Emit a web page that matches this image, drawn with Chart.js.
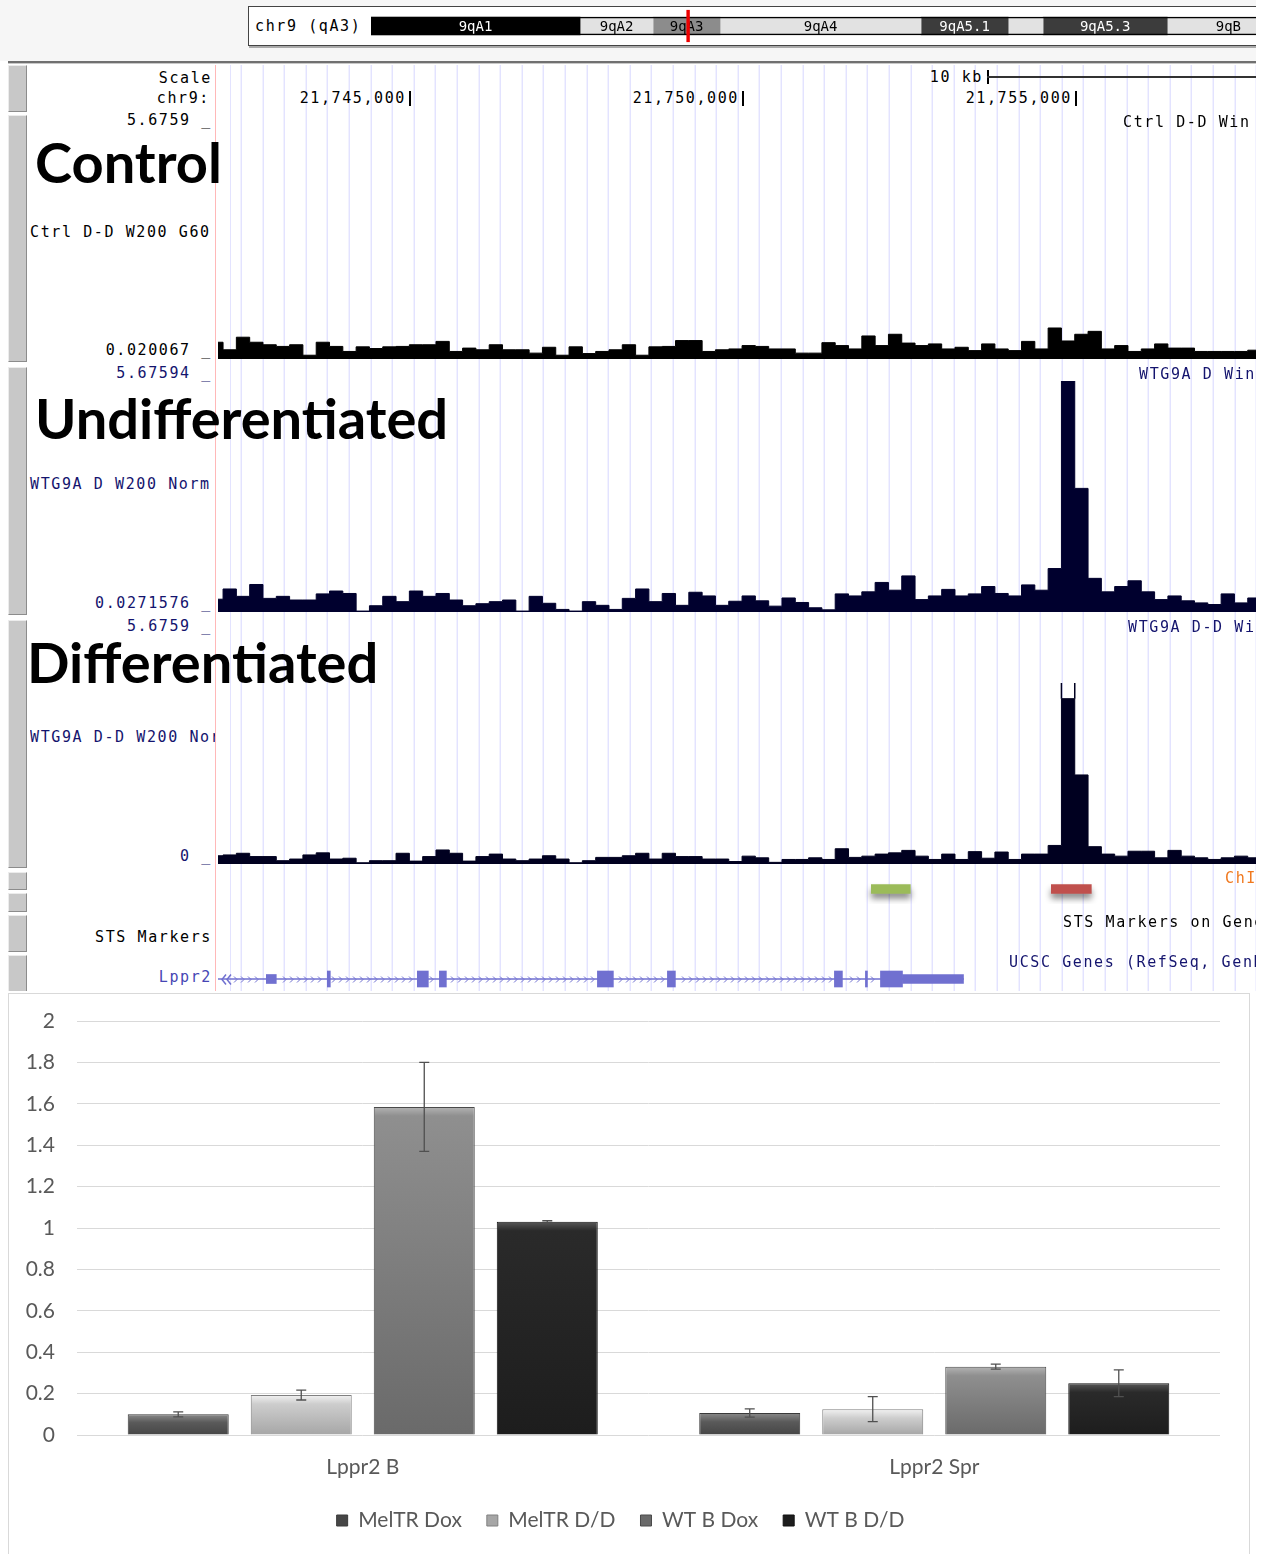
<!DOCTYPE html>
<html>
<head>
<meta charset="utf-8">
<title>Lppr2 ChIP</title>
<script src="https://cdn.jsdelivr.net/npm/chart.js@4.4.1/dist/chart.umd.min.js"></script>
<style>
    body { margin: 0; width: 1274px; height: 1554px; position: relative; overflow: hidden; background: #fff; }
    #browser { position: absolute; left: 0; top: 0; width: 1256px; height: 991px; overflow: hidden; }
    #topband { position: absolute; left: 0; top: 0; width: 1256px; height: 61px; background: #f6f6f6; }
    #ideo-box { position: absolute; left: 248px; top: 6px; width: 1030px; height: 38px; background: #fff; border: 1px solid #444; box-shadow: 1px 2px 0 #aaa; }
    .rule1 { position: absolute; left: 8px; top: 61px; width: 1248px; height: 2px; background: #707070; }
    .rule2 { position: absolute; left: 8px; top: 63px; width: 1248px; height: 1px; background: #c8c8c8; }
    .guides { position: absolute; left: 230px; top: 65px; width: 1026px; height: 926px;
        background-image: repeating-linear-gradient(90deg, #d6d6ff 0, #d6d6ff 1px, transparent 1px, transparent 21.6px);
        background-position: 10.7px 0; }
    .redline { position: absolute; left: 215px; top: 65px; width: 1px; height: 926px; background: #ffb8b8; }
    .btn { position: absolute; left: 8px; width: 17px; background: #c8c8c8; border: 1px solid; border-color: #ececec #8c8c8c #8c8c8c #ececec; }
    .t { position: absolute; font-family: "DejaVu Sans Mono", monospace; font-size: 15px; line-height: 16px; letter-spacing: 1.6px; white-space: nowrap; color: #000; }
    .navy { color: #14146e; }
    .tick { position: absolute; width: 1.5px; height: 15px; background: #000; }
    .big { position: absolute; font-family: Lato, sans-serif; font-weight: 700; font-size: 56px; line-height: 67.2px; white-space: nowrap; color: #000; }
    canvas.layer { position: absolute; }
    #bar-box { position: absolute; left: 8px; top: 993px; width: 1240px; height: 560px; border: 1px solid #d9d9d9; }
</style>
</head>
<body>
<div id="browser">
    <div id="topband"></div>
    <div id="ideo-box"></div>
    <div class="t" style="left:255px;top:18px">chr9 (qA3)</div>
    <canvas id="chart-ideo" class="layer" width="885" height="36" style="left:371px;top:8px"></canvas>

    <div class="rule1"></div>
    <div class="rule2"></div>
    <div class="guides"></div>
    <div class="redline"></div>

    <div class="btn" style="top:65px;height:45px"></div>
    <div class="btn" style="top:115px;height:245px"></div>
    <div class="btn" style="top:367px;height:246px"></div>
    <div class="btn" style="top:620px;height:246px"></div>
    <div class="btn" style="top:872px;height:16px"></div>
    <div class="btn" style="top:893px;height:17px"></div>
    <div class="btn" style="top:915px;height:35px"></div>
    <div class="btn" style="top:955px;height:36px"></div>

    <!-- ruler -->
    <div class="t" style="right:1044px;top:70px">Scale</div>
    <div class="t" style="right:1046px;top:90px">chr9:</div>
    <div class="t" style="right:850px;top:90px">21,745,000</div>
    <div class="tick" style="left:409px;top:91px"></div>
    <div class="t" style="right:517px;top:90px">21,750,000</div>
    <div class="tick" style="left:742px;top:91px"></div>
    <div class="t" style="right:184px;top:90px">21,755,000</div>
    <div class="tick" style="left:1075px;top:91px"></div>
    <div class="t" style="right:273px;top:69px">10 kb</div>
    <div class="tick" style="left:987px;top:70px;height:14px"></div>
    <div style="position:absolute;left:987px;top:76px;width:300px;height:1.5px;background:#333"></div>

    <!-- wiggle tracks -->
    <canvas id="chart-ctrl" class="layer" width="1038" height="237" style="left:218px;top:122px"></canvas>
    <canvas id="chart-undiff" class="layer" width="1038" height="231" style="left:218px;top:381px"></canvas>
    <canvas id="chart-diff" class="layer" width="1038" height="234" style="left:218px;top:630px"></canvas>
    <canvas id="chart-amp" class="layer" width="1038" height="30" style="left:218px;top:874px"></canvas>
    <canvas id="chart-gene" class="layer" width="1038" height="22" style="left:218px;top:968px"></canvas>

    <div class="t" style="right:1044px;top:112px">5.6759 _</div>
    <div class="t" style="left:1123px;top:114px">Ctrl D-D Win</div>
    <div class="t" style="left:30px;top:224px">Ctrl D-D W200 G60</div>
    <div class="t" style="right:1044px;top:342px">0.020067 _</div>

    <div class="t navy" style="right:1044px;top:365px">5.67594 _</div>
    <div class="t navy" style="left:1139px;top:366px">WTG9A D Win</div>
    <div class="t navy" style="left:30px;top:476px">WTG9A D W200 Norm</div>
    <div class="t navy" style="right:1044px;top:595px">0.0271576 _</div>

    <div class="t navy" style="right:1044px;top:618px">5.6759 _</div>
    <div class="t navy" style="left:1128px;top:619px">WTG9A D-D Wi</div>
    <div class="t navy" style="left:30px;top:729px;width:185px;overflow:hidden">WTG9A D-D W200 Norm</div>
    <div class="t navy" style="right:1044px;top:848px">0 _</div>

    <div class="t" style="left:1225px;top:870px;color:#f0781e">ChIP</div>
    <div class="t" style="left:1063px;top:914px">STS Markers on Genetic</div>
    <div class="t" style="right:1044px;top:929px">STS Markers</div>
    <div class="t navy" style="left:1009px;top:954px">UCSC Genes (RefSeq, GenBank)</div>
    <div class="t" style="right:1044px;top:969px;color:#4646b4">Lppr2</div>

    <div class="big" style="left:35px;top:128px">Control</div>
    <div class="big" style="left:35px;top:384px">Undifferentiated</div>
    <div class="big" style="left:27px;top:628px">Differentiated</div>
</div>

<div id="bar-box">
    <canvas id="chart-bar" width="1240" height="560"></canvas>
</div>

<script>
    // ---- genome browser window (bp) ----
    var viewStart = 21742124;
    var viewEnd = 21757724;
    var binStart = 21742000; // first 200 bp window
    var binSize = 200;

    // W200 window values, one per 200 bp bin
    var ctrlValues = [0.42, 0.24, 0.54, 0.42, 0.36, 0.32, 0.36, 0.11, 0.42, 0.32,
        0.20, 0.31, 0.27, 0.31, 0.32, 0.36, 0.36, 0.44, 0.20, 0.28,
        0.24, 0.36, 0.24, 0.24, 0.16, 0.30, 0.11, 0.31, 0.15, 0.20,
        0.24, 0.36, 0.11, 0.31, 0.32, 0.46, 0.46, 0.20, 0.24, 0.26,
        0.34, 0.32, 0.26, 0.26, 0.16, 0.16, 0.41, 0.34, 0.26, 0.57,
        0.34, 0.61, 0.40, 0.34, 0.38, 0.26, 0.30, 0.22, 0.38, 0.26,
        0.22, 0.44, 0.26, 0.76, 0.45, 0.61, 0.68, 0.26, 0.34, 0.20,
        0.26, 0.38, 0.28, 0.28, 0.20, 0.20, 0.20, 0.20, 0.23];
    var undiffValues = [0.34, 0.59, 0.41, 0.70, 0.36, 0.41, 0.32, 0.32, 0.47, 0.54,
        0.48, 0.05, 0.18, 0.41, 0.28, 0.54, 0.41, 0.48, 0.32, 0.18,
        0.23, 0.28, 0.32, 0.05, 0.41, 0.24, 0.09, 0.05, 0.28, 0.19,
        0.09, 0.36, 0.59, 0.28, 0.48, 0.19, 0.51, 0.42, 0.19, 0.29,
        0.42, 0.30, 0.17, 0.37, 0.26, 0.13, 0.08, 0.47, 0.42, 0.52,
        0.75, 0.56, 0.91, 0.33, 0.42, 0.58, 0.42, 0.47, 0.65, 0.48,
        0.42, 0.69, 0.56, 1.09, 5.676, 3.05, 0.85, 0.52, 0.65, 0.79,
        0.52, 0.33, 0.42, 0.30, 0.25, 0.21, 0.47, 0.25, 0.37];
    var diffValues = [0.20, 0.22, 0.26, 0.18, 0.18, 0.08, 0.12, 0.22, 0.27, 0.12,
        0.14, 0.03, 0.08, 0.08, 0.26, 0.07, 0.18, 0.34, 0.26, 0.07,
        0.18, 0.24, 0.12, 0.08, 0.12, 0.20, 0.12, 0.03, 0.08, 0.16,
        0.16, 0.20, 0.26, 0.12, 0.26, 0.18, 0.18, 0.12, 0.12, 0.06,
        0.19, 0.15, 0.04, 0.11, 0.11, 0.15, 0.11, 0.37, 0.16, 0.19,
        0.24, 0.27, 0.33, 0.19, 0.11, 0.24, 0.11, 0.30, 0.14, 0.29,
        0.11, 0.24, 0.24, 0.45, 4.01, 2.16, 0.42, 0.24, 0.19, 0.31,
        0.31, 0.15, 0.33, 0.19, 0.15, 0.11, 0.15, 0.19, 0.15];
    var ctrlRange = [0.020067, 5.6759];
    var undiffRange = [0.0271576, 5.67594];
    var diffRange = [0, 5.6759];
    var diffClipTop = 4.39; // clipping marks above the differentiated peak

    // chromosome ideogram (Mb)
    var bandNames = ['9qA1', '9qA2', '9qA3', '9qA4', '9qA5.1', '9qA5.2', '9qA5.3', '9qB'];
    var bandStarts = [0, 14.34, 19.35, 23.94, 37.73, 43.70, 46.10, 54.61];
    var bandEnds = [14.34, 19.35, 23.94, 37.73, 43.70, 46.10, 54.61, 63.0];
    var bandStains = ['gpos100', 'gneg', 'gpos50', 'gneg', 'gpos75', 'gneg', 'gpos75', 'gneg'];
    var viewMb = [21.742, 21.758];
    var ideoMax = 60.7;

    // ChIP primer amplicons (bp)
    var amplicons = [[21751943, 21752529], [21754648, 21755249]];

    // Lppr2 gene model (bp)
    var geneStart = 21741800;
    var geneEnd = 21753328;
    var utrExons = [[21742850, 21743000], [21752411, 21753328]];
    var cdsExons = [[21743767, 21743812], [21745120, 21745285], [21745451, 21745556],
        [21747826, 21748066], [21748878, 21748998], [21751388, 21751508],
        [21751854, 21751884], [21752080, 21752411]];

    // ---- qPCR bar chart ----
    var groups = ['Lppr2 B', 'Lppr2 Spr'];
    var seriesNames = ['MelTR Dox', 'MelTR D/D', 'WT B Dox', 'WT B D/D'];
    var meltrDox = [0.10, 0.106];
    var meltrDD = [0.193, 0.125];
    var wtDox = [1.585, 0.33];
    var wtDD = [1.03, 0.25];
    var meltrDoxErr = [0.012, 0.02];
    var meltrDDErr = [0.024, 0.06];
    var wtDoxErr = [0.215, 0.012];
    var wtDDErr = [0.005, 0.065];

    Chart.defaults.animation = false;
    Chart.defaults.plugins.tooltip.enabled = false;

    var stainColors = { gpos100: '#000000', gpos75: '#3c3c3c', gpos50: '#8c8c8c', gneg: '#e2e2e2' };
    var stainText = { gpos100: '#ffffff', gpos75: '#ffffff', gpos50: '#000000', gneg: '#000000' };
    var geneColor = '#7070d0';

    function trackPoints(values) {
        var pts = [];
        for (var i = 0; i < values.length; i++) {
            pts.push({ x: binStart + i * binSize, y: values[i] });
        }
        // close the last window
        pts.push({ x: binStart + values.length * binSize, y: values[values.length - 1] });
        return pts;
    }

    function hiddenScales(yMin, yMax) {
        return {
            x: { type: 'linear', display: false, min: viewStart, max: viewEnd },
            y: { display: false, min: yMin, max: yMax }
        };
    }

    function makeTrack(id, values, range, color, extra) {
        var datasets = [{
            data: trackPoints(values),
            stepped: true,
            fill: 'start',
            backgroundColor: color,
            borderColor: color,
            borderWidth: 1,
            pointRadius: 0
        }];
        if (extra) datasets.push(extra);
        return new Chart(document.getElementById(id), {
            type: 'line',
            data: { datasets: datasets },
            options: {
                responsive: false,
                layout: { padding: 0 },
                plugins: { legend: { display: false } },
                scales: hiddenScales(range[0], range[1])
            }
        });
    }

    makeTrack('chart-ctrl', ctrlValues, ctrlRange, '#000000');
    makeTrack('chart-undiff', undiffValues, undiffRange, '#00002e');

    // the tallest differentiated window is drawn with clip marks on both edges
    var peakIndex = diffValues.indexOf(Math.max.apply(null, diffValues));
    var peakLeft = binStart + peakIndex * binSize;
    var peakRight = peakLeft + binSize;
    makeTrack('chart-diff', diffValues, diffRange, '#000020', {
        data: [
            { x: peakLeft, y: diffValues[peakIndex] }, { x: peakLeft, y: diffClipTop }, { x: peakLeft, y: null },
            { x: peakRight, y: diffClipTop }, { x: peakRight, y: diffValues[peakIndex] }
        ],
        borderColor: '#000020',
        borderWidth: 1.5,
        fill: false,
        spanGaps: false,
        pointRadius: 0
    });

    // ---- ideogram ----
    var bandLabelPlugin = {
        id: 'bandLabels',
        afterDatasetDraw: function (chart, args) {
            var ds = chart.data.datasets[args.index];
            if (!ds.bandLabel) return;
            var bar = args.meta.data[0];
            var left = Math.min(bar.x, bar.base);
            var right = Math.max(bar.x, bar.base);
            var ctx = chart.ctx;
            ctx.save();
            ctx.font = '14px "DejaVu Sans Mono"';
            if (ctx.measureText(ds.bandLabel).width + 4 < right - left) {
                ctx.fillStyle = ds.labelColor;
                ctx.textAlign = 'center';
                ctx.textBaseline = 'middle';
                ctx.fillText(ds.bandLabel, (left + right) / 2, bar.y + 1);
            }
            ctx.restore();
        }
    };

    var ideoSets = [{
        data: [viewMb],
        backgroundColor: '#ee0000',
        borderWidth: 0,
        inflateAmount: 1.6,
        barThickness: 29
    }, {
        data: [[0, ideoMax + 5]],
        backgroundColor: 'rgba(0,0,0,0)',
        borderColor: '#000000',
        borderWidth: 1,
        borderSkipped: false,
        barThickness: 18
    }];
    for (var b = 0; b < bandNames.length; b++) {
        ideoSets.push({
            data: [[bandStarts[b], bandEnds[b]]],
            bandLabel: bandNames[b],
            labelColor: stainText[bandStains[b]],
            backgroundColor: stainColors[bandStains[b]],
            borderWidth: 0,
            barThickness: 18
        });
    }
    new Chart(document.getElementById('chart-ideo'), {
        type: 'bar',
        data: { labels: ['chr9'], datasets: ideoSets },
        options: {
            responsive: false,
            indexAxis: 'y',
            datasets: { bar: { grouped: false } },
            layout: { padding: 0 },
            plugins: { legend: { display: false } },
            scales: {
                x: { type: 'linear', display: false, min: 0, max: ideoMax },
                y: { display: false }
            }
        },
        plugins: [bandLabelPlugin]
    });

    // ---- ChIP amplicons ----
    var shadowPlugin = {
        id: 'shadow',
        beforeDatasetsDraw: function (chart) {
            var c = chart.ctx;
            c.save();
            c.shadowColor = 'rgba(0,0,0,0.45)';
            c.shadowBlur = 6;
            c.shadowOffsetY = 5;
        },
        afterDatasetsDraw: function (chart) {
            chart.ctx.restore();
        }
    };
    new Chart(document.getElementById('chart-amp'), {
        type: 'bar',
        data: {
            labels: ['ChIP'],
            datasets: [{
                data: amplicons.map(function (a) { return { x: a, y: 'ChIP' }; }),
                backgroundColor: ['#9bbb59', '#c0504d'],
                barThickness: 9
            }]
        },
        options: {
            responsive: false,
            indexAxis: 'y',
            layout: { padding: 0 },
            plugins: { legend: { display: false } },
            scales: {
                x: { type: 'linear', display: false, min: viewStart, max: viewEnd },
                y: { display: false }
            }
        },
        plugins: [shadowPlugin]
    });

    // ---- gene model ----
    function exonData(list) {
        return list.map(function (e) { return { x: e, y: 'Lppr2' }; });
    }
    var chevronPlugin = {
        id: 'chevrons',
        afterDatasetsDraw: function (chart) {
            var ctx = chart.ctx;
            var xs = chart.scales.x;
            var area = chart.chartArea;
            var y = Math.round((area.top + area.bottom) / 2) + 0.5;
            var left = Math.max(xs.getPixelForValue(geneStart), area.left);
            var right = xs.getPixelForValue(geneEnd);
            var boxes = utrExons.concat(cdsExons).map(function (e) {
                return [xs.getPixelForValue(e[0]) - 3, xs.getPixelForValue(e[1]) + 3];
            });
            ctx.save();
            ctx.strokeStyle = geneColor;
            ctx.lineWidth = 1;
            for (var x = left + 18; x < right - 4; x += 7) {
                var hit = boxes.some(function (bx) { return x > bx[0] && x < bx[1]; });
                if (hit) continue;
                ctx.beginPath();
                ctx.moveTo(x - 2, y - 3);
                ctx.lineTo(x + 1, y);
                ctx.lineTo(x - 2, y + 3);
                ctx.stroke();
            }
            // gene continues past the left edge
            if (geneStart < xs.min) {
                ctx.lineWidth = 1.5;
                for (var k = 0; k < 2; k++) {
                    var ax = left + 4 + k * 5;
                    ctx.beginPath();
                    ctx.moveTo(ax + 4, y - 5);
                    ctx.lineTo(ax, y);
                    ctx.lineTo(ax + 4, y + 5);
                    ctx.stroke();
                }
            }
            ctx.restore();
        }
    };
    new Chart(document.getElementById('chart-gene'), {
        type: 'bar',
        data: {
            labels: ['Lppr2'],
            datasets: [
                { data: exonData(cdsExons), backgroundColor: geneColor, barThickness: 16 },
                { data: exonData(utrExons), backgroundColor: geneColor, barThickness: 9 },
                { data: exonData([[geneStart, geneEnd]]), backgroundColor: geneColor, barThickness: 1 }
            ]
        },
        options: {
            responsive: false,
            indexAxis: 'y',
            datasets: { bar: { grouped: false } },
            layout: { padding: 0 },
            plugins: { legend: { display: false } },
            scales: {
                x: { type: 'linear', display: false, min: viewStart, max: viewEnd },
                y: { display: false }
            }
        },
        plugins: [chevronPlugin]
    });

    // ---- qPCR enrichment bars ----
    var barStyles = [
        { light: '#8a8a8a', mid: '#5a5a5a', dark: '#464646', border: '#3a3a3a' },
        { light: '#f2f2f2', mid: '#cdcdcd', dark: '#a6a6a6', border: '#808080' },
        { light: '#b4b4b4', mid: '#8f8f8f', dark: '#6a6a6a', border: '#4a4a4a' },
        { light: '#585858', mid: '#2a2a2a', dark: '#1d1d1d', border: '#111111' }
    ];

    function bevelFill(st) {
        return function (c) {
            var chart = c.chart;
            if (c.type !== 'data' || !chart.chartArea || !c.parsed) return st.mid;
            var ys = chart.scales.y;
            var top = ys.getPixelForValue(c.parsed.y);
            var bottom = ys.getPixelForValue(0);
            var h = Math.max(bottom - top, 1);
            var g = chart.ctx.createLinearGradient(0, top, 0, bottom);
            g.addColorStop(0, st.light);
            g.addColorStop(Math.min(9 / h, 0.4), st.mid);
            g.addColorStop(1, st.dark);
            return g;
        };
    }

    var errorBarPlugin = {
        id: 'errorBars',
        afterDatasetsDraw: function (chart) {
            var ctx = chart.ctx;
            var ys = chart.scales.y;
            ctx.save();
            ctx.strokeStyle = '#505050';
            ctx.lineWidth = 1.3;
            chart.data.datasets.forEach(function (ds, i) {
                chart.getDatasetMeta(i).data.forEach(function (bar, j) {
                    var top = ys.getPixelForValue(ds.data[j] + ds.errors[j]);
                    var bottom = ys.getPixelForValue(ds.data[j] - ds.errors[j]);
                    ctx.beginPath();
                    ctx.moveTo(bar.x, top);
                    ctx.lineTo(bar.x, bottom);
                    ctx.moveTo(bar.x - 5, top);
                    ctx.lineTo(bar.x + 5, top);
                    ctx.moveTo(bar.x - 5, bottom);
                    ctx.lineTo(bar.x + 5, bottom);
                    ctx.stroke();
                });
            });
            ctx.restore();
        }
    };

    var seriesData = [meltrDox, meltrDD, wtDox, wtDD];
    var seriesErr = [meltrDoxErr, meltrDDErr, wtDoxErr, wtDDErr];
    var barSets = seriesNames.map(function (name, i) {
        return {
            label: name,
            data: seriesData[i],
            errors: seriesErr[i],
            backgroundColor: bevelFill(barStyles[i]),
            borderColor: barStyles[i].border,
            borderWidth: 1
        };
    });

    var axisFont = { family: 'Lato', size: 21 };
    new Chart(document.getElementById('chart-bar'), {
        type: 'bar',
        data: { labels: groups, datasets: barSets },
        options: {
            responsive: false,
            layout: { padding: { top: 27, right: 29, bottom: 13, left: 12 } },
            datasets: { bar: { categoryPercentage: 0.861, barPercentage: 0.821 } },
            scales: {
                x: {
                    grid: { display: false, drawTicks: false },
                    border: { display: false },
                    ticks: { color: '#595959', font: axisFont, padding: 20 },
                    afterFit: function (scale) { scale.height = 50; }
                },
                y: {
                    min: 0,
                    max: 2,
                    grid: { color: '#d9d9d9', drawTicks: false },
                    border: { display: false },
                    ticks: {
                        stepSize: 0.2, color: '#595959', font: axisFont, padding: 22,
                        callback: function (v) { return String(Math.round(v * 10) / 10); }
                    },
                    afterFit: function (scale) {
                        scale.width = 56;
                        scale.paddingTop = 0;
                        scale.paddingBottom = 0;
                    }
                }
            },
            plugins: {
                legend: {
                    position: 'bottom',
                    labels: { color: '#595959', font: axisFont, boxWidth: 11, boxHeight: 11, padding: 25 }
                }
            }
        },
        plugins: [errorBarPlugin]
    });
</script>
</body>
</html>
